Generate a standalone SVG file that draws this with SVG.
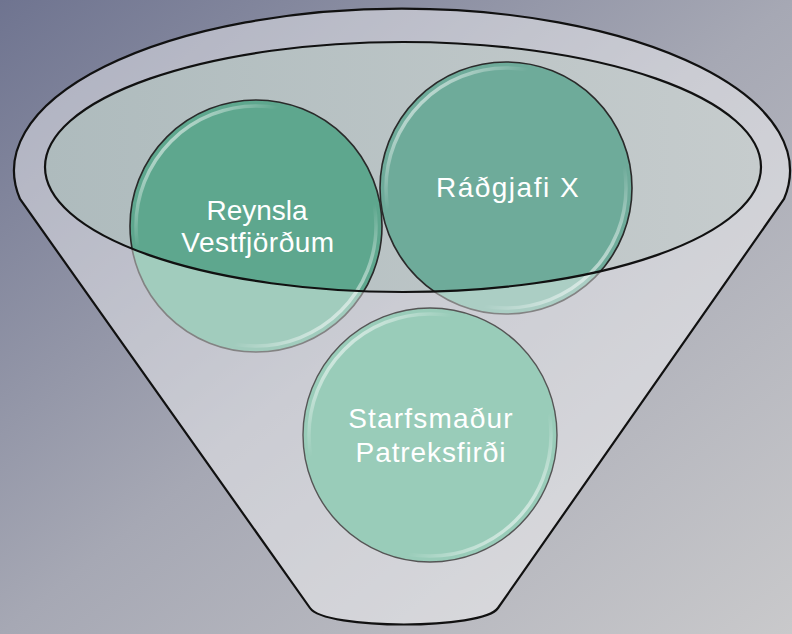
<svg xmlns="http://www.w3.org/2000/svg" width="792" height="634" viewBox="0 0 792 634">
<defs>
  <linearGradient id="bg" x1="0" y1="0" x2="1" y2="1">
    <stop offset="0" stop-color="#6f7490"/>
    <stop offset="0.5" stop-color="#a6a8b4"/>
    <stop offset="1" stop-color="#c9c9cb"/>
  </linearGradient>
  <linearGradient id="inner" x1="0" y1="0" x2="1" y2="0">
    <stop offset="0" stop-color="#aebbbd"/>
    <stop offset="1" stop-color="#c6cccd"/>
  </linearGradient>
  <linearGradient id="gloss" x1="0" y1="0" x2="1" y2="1">
    <stop offset="0" stop-color="#fff" stop-opacity="1"/>
    <stop offset="0.3" stop-color="#fff" stop-opacity="0"/>
    <stop offset="0.7" stop-color="#fff" stop-opacity="0"/>
    <stop offset="1" stop-color="#fff" stop-opacity="1"/>
  </linearGradient>
  <style>
    .circ { stroke: #2a2a2a; stroke-width: 1.6; }
    .gl { fill: none; stroke: url(#gloss); stroke-width: 3.5; }
    .lbl { font-family: "Liberation Sans", Arial, sans-serif; font-size: 28px; fill: #ffffff; text-anchor: middle; }
    .outline { fill: none; stroke: #111; stroke-width: 2.2; }
  </style>
</defs>
<rect x="0" y="0" width="792" height="634" fill="url(#bg)"/>

<g id="funnel-back">
  <ellipse cx="403" cy="167" rx="358" ry="125" fill="url(#inner)"/>
</g>

<g id="node-reynsla">
  <circle class="circ" cx="256" cy="226" r="126" fill="#5ea78e"/>
  <circle class="gl" cx="256" cy="226" r="120"/>
</g>
<g id="node-radgjafi">
  <circle class="circ" cx="506" cy="188" r="126" fill="#6eab9a"/>
  <circle class="gl" cx="506" cy="188" r="120"/>
</g>

<g id="funnel">
  <path d="M 20,199 A 388 162 0 1 1 784,199 L 498,608 C 483,630 325,630 310,608 Z M 45,167 A 358 125 0 1 0 761,167 A 358 125 0 1 0 45,167 Z" fill="#ffffff" fill-opacity="0.42" fill-rule="evenodd"/>
  <path class="outline" d="M 20,199 A 388 162 0 1 1 784,199 L 498,608 C 483,630 325,630 310,608 Z"/>
  <ellipse class="outline" cx="403" cy="167" rx="358" ry="125"/>
</g>

<g id="node-starfsmadur">
  <circle cx="430" cy="435" r="127" fill="#99ccb9" stroke="#555" stroke-width="1.4"/>
  <circle class="gl" cx="430" cy="435" r="121"/>
</g>

<g id="labels">
  <text class="lbl" x="257" y="220">Reynsla</text>
  <text class="lbl" x="258" y="252" letter-spacing="0.5">Vestfjörðum</text>
  <text class="lbl" x="508" y="197" letter-spacing="1.5">Ráðgjafi X</text>
  <text class="lbl" x="431" y="428" letter-spacing="1.2">Starfsmaður</text>
  <text class="lbl" x="431" y="462" letter-spacing="0.9">Patreksfirði</text>
</g>
</svg>
